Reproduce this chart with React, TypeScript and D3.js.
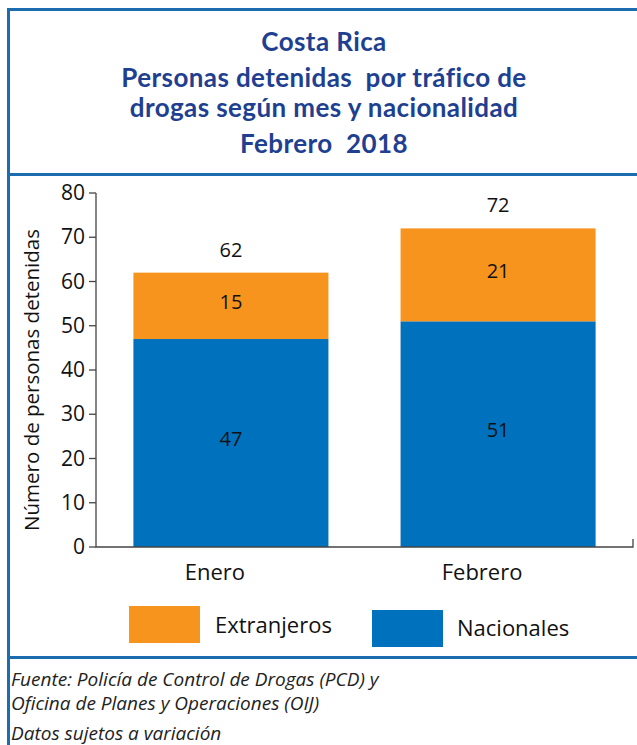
import * as d3 from "d3";

const categories = ["Enero", "Febrero"];
const nacionales = [47, 51];
const extranjeros = [15, 21];
const yTicks = [0, 10, 20, 30, 40, 50, 60, 70, 80];
const titleLines = [
  "Costa Rica",
  "Personas detenidas  por tráfico de",
  "drogas según mes y nacionalidad",
  "Febrero  2018",
];
const footerLines = [
  "Fuente: Policía de Control de Drogas (PCD) y",
  "Oficina de Planes y Operaciones (OIJ)",
  "Datos sujetos a variación",
];

const ORANGE = "#F7941E";
const BLUE = "#0071BC";
const BORDER = "#1B6DB0";
const TITLE = "#213F90";

const App: React.FC = () => {
  const width = 637;
  const height = 745;
  const left = 96;
  const right = 633;
  const top = 193;
  const bottom = 547;

  const x = d3.scaleBand(categories, [left, right]).paddingInner(0.27).paddingOuter(0.14);
  const y = d3.scaleLinear([0, 80], [bottom, top]);
  const font = "'Open Sans', sans-serif";

  const titleY = [51, 87, 117, 153];
  const footerY = [686, 710, 740];

  return (
    <svg width={width} height={height} style={{ position: "absolute", left: 0, top: 0 }}>
      <rect width={width} height={height} fill="white" />
      {/* frame */}
      <line x1={8.5} x2={8.5} y1={8} y2={height} stroke={BORDER} strokeWidth={3} />
      <line x1={7} x2={width} y1={9.5} y2={9.5} stroke={BORDER} strokeWidth={3} />
      <line x1={7} x2={width} y1={174.5} y2={174.5} stroke={BORDER} strokeWidth={3} />
      <line x1={7} x2={width} y1={657.5} y2={657.5} stroke={BORDER} strokeWidth={3} />

      <g fontFamily="Lato, sans-serif" fontWeight="bold" fill={TITLE} textAnchor="middle">
        {titleLines.map((t, i) => (
          <text key={i} x={324} y={titleY[i]} fontSize={26} letterSpacing={0.4} style={{ whiteSpace: "pre" }}>
            {t}
          </text>
        ))}
      </g>

      {/* bars */}
      {categories.map((c, i) => {
        const n = nacionales[i];
        const e = extranjeros[i];
        const cx = x(c)! + x.bandwidth() / 2;
        return (
          <g key={c}>
            <rect x={x(c)} y={y(n)} width={x.bandwidth()} height={y(0) - y(n)} fill={BLUE} />
            <rect x={x(c)} y={y(n + e)} width={x.bandwidth()} height={y(n) - y(n + e)} fill={ORANGE} />
            <g fontFamily={font} fontSize={20} textAnchor="middle" fill="#111">
              <text x={cx} y={y(n / 2) + 3}>{n}</text>
              <text x={cx} y={y(n + e / 2) + 3}>{e}</text>
              <text x={cx} y={y(n + e) - 16}>{n + e}</text>
            </g>
          </g>
        );
      })}

      {/* axes */}
      <g stroke="#444" strokeWidth={1.3} fill="none">
        <path d={`M${left},${top}V${bottom}H${right}V${bottom - 8}`} />
        {yTicks.map((t) => (
          <line key={t} x1={left - 7} x2={left} y1={y(t)} y2={y(t)} />
        ))}
      </g>
      <g fontFamily={font} fontSize={21} fill="#111">
        {yTicks.map((t) => (
          <text key={t} x={85} y={y(t) + 7} textAnchor="end">{t}</text>
        ))}
      </g>
      <g fontFamily={font} fontSize={22} fill="#111">
        {categories.map((c) => (
          <text key={c} x={x(c)! + x.bandwidth() / 2 - 16} y={580} textAnchor="middle">{c}</text>
        ))}
      </g>
      <g fontFamily={font} fontSize={20.5} fill="#111">
        <text transform={`translate(39,${(top + bottom) / 2 + 10}) rotate(-90)`} textAnchor="middle">
          Número de personas detenidas
        </text>
      </g>

      {/* legend */}
      <rect x={129} y={606} width={71} height={37} fill={ORANGE} />
      <rect x={372} y={610} width={71} height={37} fill={BLUE} />
      <g fontFamily={font} fontSize={22} fill="#111">
        <text x={215} y={633}>Extranjeros</text>
        <text x={457} y={636}>Nacionales</text>
      </g>

      <g fontFamily={font} fontSize={19} fontStyle="italic" fill="#222">
        {footerLines.map((t, i) => (
          <text key={i} x={11} y={footerY[i]}>{t}</text>
        ))}
      </g>
    </svg>
  );
};

export default App;
